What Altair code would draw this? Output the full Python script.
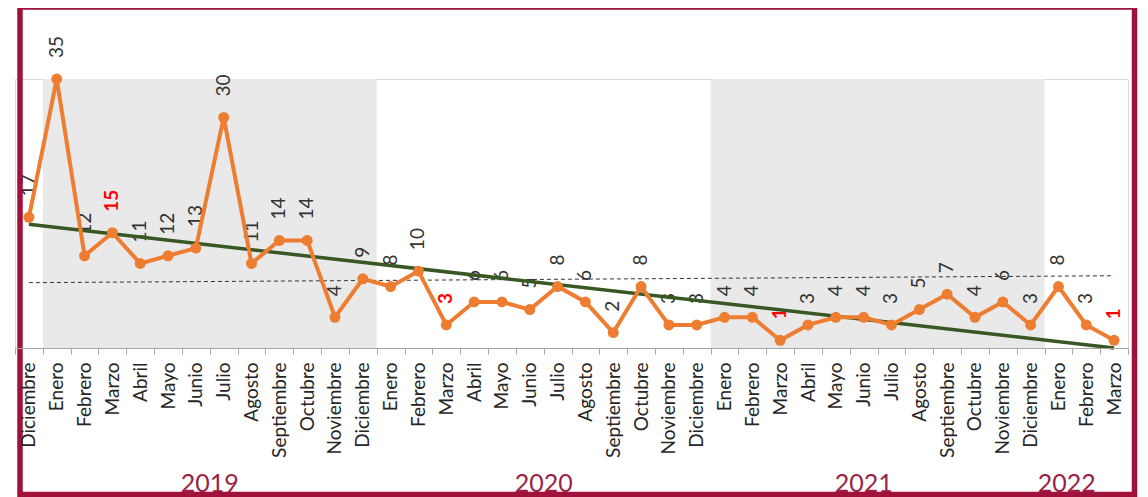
import json
import altair as alt
import pandas as pd

# ---------------- data ----------------
months = ["Diciembre",
          "Enero", "Febrero", "Marzo", "Abril", "Mayo", "Junio", "Julio", "Agosto",
          "Septiembre", "Octubre", "Noviembre", "Diciembre",
          "Enero", "Febrero", "Marzo", "Abril", "Mayo", "Junio", "Julio", "Agosto",
          "Septiembre", "Octubre", "Noviembre", "Diciembre",
          "Enero", "Febrero", "Marzo", "Abril", "Mayo", "Junio", "Julio", "Agosto",
          "Septiembre", "Octubre", "Noviembre", "Diciembre",
          "Enero", "Febrero", "Marzo"]
years = (["2018"] + ["2019"] * 12 + ["2020"] * 12 + ["2021"] * 12 + ["2022"] * 3)
values = [17,
          35, 12, 15, 11, 12, 13, 30, 11, 14, 14, 4, 9,
          8, 10, 3, 6, 6, 5, 8, 6, 2, 8, 3, 3,
          4, 4, 1, 3, 4, 4, 3, 5, 7, 4, 6, 3,
          8, 3, 1]
trend_values = [16.1, 0.0]      # trend line at first and last month
ref_values = [8.5, 9.4]         # dashed reference line at first and last month
shaded_years = ["2019", "2021"]
year_labels = ["2019", "2020", "2021", "2022"]

# ---------------- layout / style ----------------
W, H = 1113, 269
year_anchor = [6, 18, 30, 37]       # category index under which the year label sits
year_band = [1.0, 1.0, 0.5, 0.8]    # position inside that band
FONT = "Lato"
ORANGE = "#ED7D31"
GREEN = "#385723"
MAROON = "#A0123C"
YEAR_COLOR = "#9B1F46"
GRAY_BAND = "#E9E9E9"

n = len(values)
df = pd.DataFrame({"idx": list(range(n)), "month": months, "year": years, "value": values})
last = n - 1
trend_df = pd.DataFrame({"idx": [0, last], "value": trend_values})
ref_df = pd.DataFrame({"idx": [0, last], "value": ref_values})
shade_df = pd.DataFrame([
    {"idx": int(df.idx[df.year == y].min()), "end": int(df.idx[df.year == y].max())}
    for y in shaded_years
])

label_expr = json.dumps(months) + "[datum.value]"

x_scale = alt.Scale(type="band", domain=list(range(n)), paddingInner=0, paddingOuter=0)
x_axis = alt.Axis(
    labelExpr=label_expr, labelAngle=270, labelAlign="right", labelBaseline="middle",
    labelFont=FONT, labelFontSize=19, labelColor="#262626", labelPadding=8,
    labelOverlap=False, labelBound=False, labelFlush=False,
    tickBand="extent", tickSize=6, tickColor="#A6A6A6", domainColor="#A6A6A6",
    grid=False, title=None,
)


def X(**kw):
    return alt.X("idx:O", scale=x_scale, axis=x_axis, **kw)


y_enc = alt.Y("value:Q", scale=alt.Scale(domain=[0, 35], nice=False, zero=True), axis=None)

shade = alt.Chart(shade_df).mark_rect(color=GRAY_BAND).encode(
    x=alt.X("idx:O", scale=x_scale, axis=x_axis, bandPosition=0),
    x2=alt.X2("end", bandPosition=1),
    y=alt.value(0), y2=alt.value(H),
)

ref_line = alt.Chart(ref_df).mark_line(color="#333333", strokeWidth=1, strokeDash=[4, 3]).encode(
    x=X(), y=y_enc)

labels_normal = alt.Chart(df).transform_filter("datum.month != 'Marzo'").mark_text(
    angle=270, align="left", baseline="middle", dx=21,
    font=FONT, fontSize=19, color="#333333",
).encode(x=X(), y=y_enc, text="value:Q")

labels_red = alt.Chart(df).transform_filter("datum.month == 'Marzo'").mark_text(
    angle=270, align="left", baseline="middle", dx=21,
    font=FONT, fontSize=19, fontWeight="bold", color="#FF0000",
).encode(x=X(), y=y_enc, text="value:Q")

trend = alt.Chart(trend_df).mark_line(color=GREEN, strokeWidth=3.5).encode(x=X(), y=y_enc)

series = alt.Chart(df).mark_line(
    color=ORANGE, strokeWidth=4,
    point=alt.OverlayMarkDef(filled=True, color=ORANGE, size=120, opacity=1),
).encode(x=X(), y=y_enc)

year_layers = []
for lab, anc, bp in zip(year_labels, year_anchor, year_band):
    ydf = pd.DataFrame({"idx": [anc], "label": [lab]})
    year_layers.append(
        alt.Chart(ydf).mark_text(
            font=FONT, fontSize=25, color=YEAR_COLOR, baseline="alphabetic", align="center",
        ).encode(
            x=alt.X("idx:O", scale=x_scale, axis=x_axis, bandPosition=bp),
            y=alt.value(413), text="label:N",
        )
    )

border = alt.Chart(alt.Data(values=[{"b": 1}])).mark_rect(
    fillOpacity=0, stroke=MAROON, strokeWidth=5.5,
).encode(
    x=alt.value(5), x2=alt.value(1119.5), y=alt.value(-72), y2=alt.value(415.5),
)

chart = alt.layer(
    shade, ref_line, labels_normal, labels_red, trend, series, *year_layers, border
).properties(
    width=W, height=H,
    autosize=alt.AutoSizeParams(type="none"),
    padding={"left": 7, "top": 71, "right": 10, "bottom": 149},
).configure_view(stroke="#D9D9D9", strokeWidth=1)

chart.save("out.html", embed_options={"renderer": "svg", "actions": False})
